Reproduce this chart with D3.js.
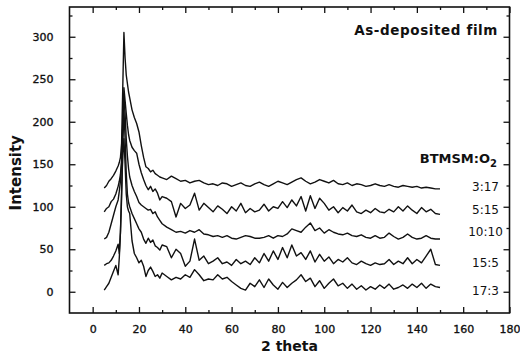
<!DOCTYPE html>
<html>
<head>
<meta charset="utf-8">
<script src="https://cdn.jsdelivr.net/npm/d3@7"></script>
<style>
  body { margin: 0; background: #fff; }
  text { font-family: "DejaVu Sans", sans-serif; fill: #111; }
</style>
</head>
<body>
<div id="chart"></div>
<script>
// 2 theta grid shared by all curves
var theta = [5,6,7,8,9,10,11,11.5,12,12.5,13,13.5,14,14.5,15,15.5,16,17,18,19,20,21,22,23,24,25,26,27,28,29,30,
  32,34,36,38,40,42,44,46,48,50,52,54,56,58,60,62,64,66,68,70,72,74,76,78,80,82,84,86,88,90,
  92,94,96,98,100,102,104,106,108,110,112,114,116,118,120,122,124,126,128,130,132,134,136,138,140,142,144,146,148,150];

var ratios = ["3:17", "5:15", "10:10", "15:5", "17:3"];

var s317 = [122,125,130,133,137,142,148,152,158,175,240,305,275,255,245,235,228,
  214,205,198,188,172,158,147,145,141,143,139,137,135,134,
  132,136,133,130,131,128,130,131,128,126,127,125,128,127,124,126,128,125,124,127,
  129,126,124,127,130,128,126,129,132,134,130,127,129,132,130,128,131,127,126,128,
  125,127,126,124,125,127,125,124,126,124,123,125,124,123,124,122,123,122,121,121];

var s515 = [94,98,100,106,109,115,124,130,138,155,200,240,225,210,196,185,178,
  170,166,163,150,140,132,125,120,124,118,121,116,108,112,
  110,106,88,104,98,102,116,96,104,99,94,101,97,92,100,95,104,93,98,94,
  96,103,95,100,98,106,99,108,101,112,95,113,98,110,104,96,100,93,99,95,
  102,94,92,96,93,98,94,93,97,94,100,95,101,96,92,99,94,97,92,91];

var s1010 = [62,64,70,80,90,100,108,118,130,150,195,232,210,180,160,145,135,
  125,118,112,105,102,100,98,96,97,92,94,88,84,80,
  76,73,70,71,69,72,70,73,68,67,65,66,64,66,63,62,64,66,65,63,
  63,64,66,63,66,65,68,74,72,70,76,81,72,75,69,73,70,68,67,69,
  66,65,67,64,63,66,63,64,69,65,62,64,68,64,62,63,66,63,62,62];

var s155 = [31,33,34,37,42,48,56,45,70,110,170,215,180,140,115,105,100,
  92,86,80,74,70,62,57,63,58,61,54,52,49,55,
  53,40,50,45,30,36,62,37,42,33,36,40,33,35,31,38,33,36,32,40,
  34,45,36,48,38,52,40,55,42,46,38,48,35,44,36,41,33,38,35,40,
  34,32,36,33,31,34,32,33,38,32,36,33,40,33,38,34,42,50,32,31];

var s173 = [2,6,10,17,24,31,20,40,70,120,160,180,150,115,100,95,92,
  60,45,40,34,37,30,18,25,29,24,18,20,16,22,
  18,14,17,15,20,17,26,20,13,15,14,20,15,17,12,8,4,2,10,6,
  14,5,15,8,3,11,5,10,14,20,12,16,6,13,4,10,15,7,10,4,
  9,3,7,2,6,3,8,4,9,3,5,8,4,9,5,10,4,9,6,5];

var xTicks = [0,20,40,60,80,100,120,140,160,180];
var yTicks = [0,50,100,150,200,250,300];

function init() {
    var w = 520, h = 358;
    var svg = d3.select("#chart").append("svg")
        .attr("width", w)
        .attr("height", h);

    var x = d3.scaleLinear().domain([-10, 180]).range([69.5, 509.5]);
    var y = d3.scaleLinear().domain([-25, 335]).range([313, 7]);

    var series = [s317, s515, s1010, s155, s173];

    var line = d3.line()
        .x(function(d, i) { return x(theta[i]); })
        .y(function(d) { return y(d); });

    svg.selectAll("path.curve")
        .data(series)
        .enter()
        .append("path")
        .attr("class", "curve")
        .attr("d", line)
        .attr("fill", "none")
        .attr("stroke", "#111")
        .attr("stroke-width", 1.4)
        .attr("stroke-linejoin", "round");

    // frame
    svg.append("rect")
        .attr("x", x(-10)).attr("y", y(335))
        .attr("width", x(180) - x(-10)).attr("height", y(-25) - y(335))
        .attr("fill", "none").attr("stroke", "#111").attr("stroke-width", 1.6);

    var xMinor = [10,30,50,70,90,110,130,150,170];
    var yMinor = [25,75,125,175,225,275,325];

    function styleAxis(g) {
        g.select(".domain").remove();
        g.selectAll("line").attr("stroke", "#111").attr("stroke-width", 1.3);
    }
    function styleLabels(sel) {
        sel.attr("font-size", 11).attr("font-family", "DejaVu Sans")
           .attr("fill", "#111").attr("stroke", "#111").attr("stroke-width", 0.35);
    }

    // bottom
    svg.append("g").attr("transform", "translate(0," + y(-25) + ")")
        .call(d3.axisBottom(x).tickValues(xTicks).tickSizeInner(-6).tickSizeOuter(0).tickPadding(12))
        .call(styleAxis)
        .selectAll("text").call(styleLabels);
    svg.append("g").attr("transform", "translate(0," + y(-25) + ")")
        .call(d3.axisBottom(x).tickValues(xMinor).tickSizeInner(-3).tickSizeOuter(0).tickFormat(""))
        .call(styleAxis);
    // top
    svg.append("g").attr("transform", "translate(0," + y(335) + ")")
        .call(d3.axisTop(x).tickValues(xTicks).tickSizeInner(-6).tickSizeOuter(0).tickFormat(""))
        .call(styleAxis);
    svg.append("g").attr("transform", "translate(0," + y(335) + ")")
        .call(d3.axisTop(x).tickValues(xMinor).tickSizeInner(-3).tickSizeOuter(0).tickFormat(""))
        .call(styleAxis);
    // left
    svg.append("g").attr("transform", "translate(" + x(-10) + ",0)")
        .call(d3.axisLeft(y).tickValues(yTicks).tickSizeInner(-6).tickSizeOuter(0).tickPadding(16))
        .call(styleAxis)
        .selectAll("text").call(styleLabels);
    svg.append("g").attr("transform", "translate(" + x(-10) + ",0)")
        .call(d3.axisLeft(y).tickValues(yMinor).tickSizeInner(-3).tickSizeOuter(0).tickFormat(""))
        .call(styleAxis);
    // right
    svg.append("g").attr("transform", "translate(" + x(180) + ",0)")
        .call(d3.axisRight(y).tickValues(yTicks).tickSizeInner(-6).tickSizeOuter(0).tickFormat(""))
        .call(styleAxis);
    svg.append("g").attr("transform", "translate(" + x(180) + ",0)")
        .call(d3.axisRight(y).tickValues(yMinor).tickSizeInner(-3).tickSizeOuter(0).tickFormat(""))
        .call(styleAxis);

    // axis titles
    svg.append("text")
        .attr("transform", "translate(21," + y(140) + ") rotate(-90)")
        .attr("text-anchor", "middle")
        .attr("font-size", 15).attr("font-weight", "bold")
        .text("Intensity");
    svg.append("text")
        .attr("x", x(85)).attr("y", 351)
        .attr("text-anchor", "middle")
        .attr("font-size", 14).attr("font-weight", "bold")
        .text("2 theta");

    svg.append("text")
        .attr("x", 498).attr("y", 35)
        .attr("text-anchor", "end")
        .attr("font-size", 13.5).attr("font-weight", "bold")
        .attr("letter-spacing", 0.6)
        .text("As-deposited film");

    var leg = svg.append("text")
        .attr("x", 497).attr("y", 163)
        .attr("text-anchor", "end")
        .attr("font-size", 13).attr("font-weight", "bold");
    leg.append("tspan").text("BTMSM:O");
    leg.append("tspan").attr("font-size", 10).attr("dy", 4).text("2");

    // ratio labels next to the curve ends (in intensity units)
    var labelAt = [124, 97, 71, 35, 2];
    svg.selectAll("text.ratio")
        .data(ratios)
        .enter()
        .append("text")
        .attr("class", "ratio")
        .attr("x", 485.5)
        .attr("y", function(d, i) { return y(labelAt[i]) + 4.5; })
        .attr("text-anchor", "middle")
        .attr("font-size", 12)
        .text(function(d) { return d; });
}

window.onload = init;
</script>
</body>
</html>
